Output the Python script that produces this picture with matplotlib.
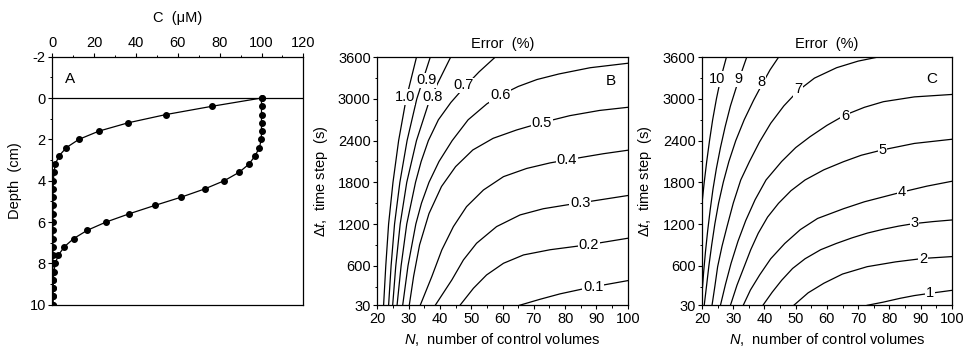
"""
Concentration profiles and discretisation error maps (panels A, B, C)
"""

import matplotlib
matplotlib.use("Agg")
import matplotlib.pyplot as plt
from matplotlib.ticker import MultipleLocator, FixedLocator

# ---- panel A: concentration profiles ----
depth = [0.0, 0.4, 0.8, 1.2, 1.6, 2.0, 2.4, 2.8, 3.2, 3.6, 4.0, 4.4, 4.8,
         5.2, 5.6, 6.0, 6.4, 6.8, 7.2, 7.6, 8.0, 8.4, 8.8, 9.2, 9.6, 10.0]
conc_early = [100, 76.3, 54.3, 36.2, 22.3, 12.7, 6.7, 3.2, 1.4, 0.8, 0.5,
              0.4, 0.3, 0.3, 0.3, 0.3, 0.3, 0.3, 0.3, 0.3, 0.3, 0.3, 0.3,
              0.3, 0.3, 0.3]
conc_late = [100, 100, 100, 100, 100, 99.9, 99.0, 96.9, 94.0, 89.2, 82.2,
             72.8, 61.5, 48.9, 36.8, 25.7, 16.7, 10.2, 5.7, 2.9, 1.4, 0.8,
             0.5, 0.4, 0.3, 0.3]

# ---- panel B: error (%) contours ----
b_levels = ["1.0", "0.9", "0.8", "0.7", "0.6", "0.5", "0.4", "0.3", "0.2", "0.1"]
b_n = [
    [22.0, 22.7, 23.6, 25.0, 26.8, 29.2, 32.5],
    [23.6, 24.4, 25.5, 27.2, 29.5, 32.6, 36.9],
    [24.9, 25.9, 27.3, 29.4, 32.5, 36.8, 43.4],
    [26.3, 27.6, 29.4, 32.2, 34.0, 36.3, 39.5, 43.5, 47.6, 52.5, 57.6],
    [28.1, 29.8, 32.3, 34.1, 36.5, 39.7, 43.9, 49.0, 55.0, 59.3, 65.0, 71.0,
     78.0, 88.0, 100],
    [30.2, 31.6, 33.5, 36.5, 40.5, 45.0, 50.5, 57.0, 64.5, 72.5, 81.5, 91.0, 100],
    [33.7, 37.4, 40.6, 44.3, 48.5, 53.9, 60.3, 67.7, 75.2, 80.5, 86.0, 92.2, 100],
    [38.5, 43.8, 47.5, 51.7, 58.1, 65.6, 73.0, 80.5, 85.0, 90.0, 95.0, 100],
    [46.4, 50.7, 54.9, 60.3, 66.7, 75.2, 83.7, 87.6, 91.2, 100],
    [65.4, 72.0, 78.4, 85.3, 89.0, 92.2, 100],
]
b_dt = [
    [30, 600, 1200, 1800, 2400, 3000, 3600],
    [30, 600, 1200, 1800, 2400, 3000, 3600],
    [30, 600, 1200, 1800, 2400, 3000, 3600],
    [30, 600, 1200, 1800, 2100, 2400, 2700, 2950, 3160, 3390, 3600],
    [30, 600, 1200, 1500, 1800, 2100, 2400, 2700, 2930, 3053, 3180, 3280,
     3360, 3450, 3514],
    [30, 450, 900, 1350, 1740, 2026, 2266, 2434, 2554, 2659, 2760, 2835, 2880],
    [30, 443, 827, 1163, 1450, 1690, 1882, 2000, 2080, 2122, 2165, 2212, 2262],
    [30, 395, 683, 923, 1163, 1331, 1420, 1475, 1505, 1540, 1575, 1610],
    [30, 275, 467, 635, 755, 830, 880, 905, 930, 995],
    [30, 117, 195, 262, 295, 322, 385],
]

# ---- panel C: error (%) contours ----
c_levels = ["10", "9", "8", "7", "6", "5", "4", "3", "2", "1"]
c_n = [
    [20.0, 20.7, 21.5, 22.4, 23.4, 24.6, 26.0, 27.8],
    [20.0, 20.5, 21.1, 21.8, 22.6, 23.5, 24.6, 25.9, 27.4, 29.1, 31.2, 34.3],
    [20.7, 21.5, 22.2, 23.1, 24.1, 25.3, 26.8, 28.6, 30.8, 33.5, 36.5, 39.1,
     41.8, 44.5],
    [23.2, 24.1, 25.0, 26.4, 28.0, 30.0, 32.4, 35.2, 38.4, 42.0, 46.2, 50.8,
     56.0, 63.1, 70.0, 76.0],
    [25.9, 27.5, 29.3, 31.5, 34.0, 37.0, 40.5, 45.5, 50.0, 54.6, 60.0, 65.8,
     72.0, 78.1, 88.0, 100],
    [29.1, 31.2, 33.5, 35.6, 38.0, 41.0, 44.5, 48.5, 53.0, 59.0, 65.3, 71.0,
     77.7, 88.0, 100],
    [33.2, 35.5, 38.5, 42.0, 46.5, 51.5, 57.0, 65.3, 72.0, 78.0, 84.0, 92.0, 100],
    [39.5, 42.5, 45.5, 49.0, 53.0, 58.0, 63.0, 68.0, 73.0, 78.1, 83.0, 87.7,
     94.0, 100],
    [49.4, 54.0, 59.0, 65.0, 72.9, 82.0, 90.9, 100],
    [72.9, 78.0, 83.5, 88.0, 93.1, 100],
]
c_dt = [
    [1500, 1800, 2100, 2400, 2700, 3000, 3300, 3600],
    [200, 500, 800, 1100, 1400, 1700, 2000, 2300, 2600, 2900, 3200, 3600],
    [30, 330, 600, 900, 1200, 1500, 1800, 2100, 2400, 2700, 2980, 3200,
     3420, 3600],
    [30, 300, 586, 880, 1162, 1500, 1834, 2100, 2380, 2650, 2900, 3120,
     3300, 3450, 3545, 3600],
    [30, 330, 635, 950, 1250, 1550, 1834, 2100, 2300, 2457, 2620, 2769,
     2880, 2961, 3030, 3065],
    [30, 320, 586, 830, 1067, 1300, 1498, 1680, 1834, 1980, 2097, 2190,
     2266, 2360, 2420],
    [30, 250, 470, 700, 920, 1120, 1280, 1420, 1520, 1590, 1660, 1745, 1815],
    [30, 220, 390, 560, 700, 830, 920, 1000, 1070, 1125, 1170, 1205, 1235, 1258],
    [30, 210, 347, 480, 586, 655, 705, 731],
    [30, 75, 131, 170, 203, 245],
]

FS = 10.5


def style_ticks(ax):
    ax.tick_params(which='major', direction='out', length=3.2, width=0.8,
                   labelsize=FS, pad=1.5)
    ax.tick_params(which='minor', direction='out', length=1.8, width=0.7)
    for sp in ax.spines.values():
        sp.set_linewidth(0.9)


def profile_panel(ax):
    ax.plot(conc_early, depth, '-o', color='black', lw=0.9, ms=4)
    ax.plot(conc_late, depth, '-o', color='black', lw=0.9, ms=4)
    ax.axhline(0, color='black', lw=0.9)
    ax.set_xlim(0, 120)
    ax.set_ylim(10, -2)
    ax.xaxis.tick_top()
    ax.xaxis.set_label_position('top')
    ax.xaxis.set_major_locator(MultipleLocator(20))
    ax.xaxis.set_minor_locator(MultipleLocator(10))
    ax.yaxis.set_major_locator(MultipleLocator(2))
    ax.yaxis.set_minor_locator(MultipleLocator(1))
    style_ticks(ax)
    ax.set_xlabel('C  (μM)', fontsize=FS, labelpad=10)
    ax.set_ylabel('Depth  (cm)', fontsize=FS, labelpad=5)
    ax.text(8.5, -0.9, 'A', fontsize=11, ha='center', va='center')


def error_panel(ax, levels, n_lines, dt_lines, lab_n, lab_dt, tag):
    for xs, ys in zip(n_lines, dt_lines):
        ax.plot(xs, ys, color='black', lw=0.9)
    for lev, x, y in zip(levels, lab_n, lab_dt):
        ax.text(x, y, lev, fontsize=FS, ha='center', va='center',
                bbox=dict(boxstyle='square,pad=0.05', fc='white', ec='none'))
    ax.text(tag[0], tag[1], tag[2], fontsize=11, ha='center', va='center')
    ax.set_xlim(20, 100)
    ax.set_ylim(30, 3600)
    ax.xaxis.set_major_locator(MultipleLocator(10))
    ax.xaxis.set_minor_locator(MultipleLocator(5))
    ax.yaxis.set_major_locator(FixedLocator([30, 600, 1200, 1800, 2400, 3000, 3600]))
    ax.yaxis.set_minor_locator(FixedLocator([300, 900, 1500, 2100, 2700, 3300]))
    style_ticks(ax)
    ax.set_xlabel(r'$N$,  number of control volumes', fontsize=FS, labelpad=4)
    ax.set_ylabel(r'$\Delta t$,  time step  (s)', fontsize=FS, labelpad=6)
    ax.text(0.5, 1.025, 'Error  (%)', transform=ax.transAxes, fontsize=FS,
            ha='center', va='bottom')


def main():
    plt.rcParams['font.family'] = ['Liberation Sans', 'DejaVu Sans']
    plt.rcParams['mathtext.fontset'] = 'custom'
    plt.rcParams['mathtext.rm'] = 'Liberation Sans'
    plt.rcParams['mathtext.it'] = 'Liberation Sans:italic'
    plt.rcParams['axes.unicode_minus'] = False

    fig = plt.figure(figsize=(9.71, 3.55), dpi=100)
    ax_a = fig.add_axes([0.0539, 0.1417, 0.2585, 0.6986])
    ax_b = fig.add_axes([0.3886, 0.1400, 0.2579, 0.6986])
    ax_c = fig.add_axes([0.7230, 0.1400, 0.2572, 0.6986])

    profile_panel(ax_a)

    b_lab_n = [28.7, 35.6, 37.7, 47.6, 59.3, 72.5, 80.5, 84.8, 87.6, 89.0]
    b_lab_dt = [3029, 3269, 3029, 3197, 3053, 2659, 2122, 1498, 898, 300]
    error_panel(ax_b, b_levels, b_n, b_dt, b_lab_n, b_lab_dt,
                (94.6, 3263, 'B'))

    c_lab_n = [24.9, 31.8, 39.1, 50.7, 65.8, 77.8, 84.0, 88.0, 90.8, 93.1]
    c_lab_dt = [3290, 3290, 3249, 3140, 2760, 2260, 1660, 1210, 700, 205]
    error_panel(ax_c, c_levels, c_n, c_dt, c_lab_n, c_lab_dt,
                (93.6, 3283, 'C'))

    fig.savefig('out.png', dpi=100)


if __name__ == '__main__':
    main()
